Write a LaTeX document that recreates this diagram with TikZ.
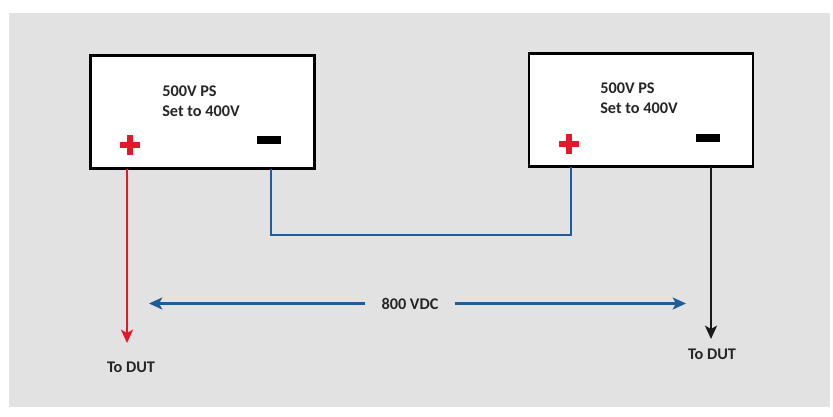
\documentclass[tikz,border=0pt]{standalone}
\usepackage{fontspec}
\setmainfont{Carlito}
\usetikzlibrary{arrows.meta,calc}
\definecolor{bggray}{HTML}{E1E2E1}
\definecolor{wblue}{HTML}{1F5C99}
\definecolor{wred}{HTML}{E3192B}
\begin{document}
\begin{tikzpicture}[x=0.75pt,y=-0.75pt,
  psbox/.style={draw=black,line width=2.2pt,fill=white,minimum width=224*0.75pt,minimum height=113*0.75pt,inner sep=0pt},
  lbl/.style={font=\bfseries\fontsize{12.2pt}{14pt}\selectfont,text=black!85,inner sep=0pt},
  plussign/.style={inner sep=0pt,minimum size=0pt},
  minusbar/.style={fill=black,inner sep=0pt,minimum width=24*0.75pt,minimum height=8*0.75pt},
  wire/.style={line width=1.8pt},
  tip/.style={-{Stealth[length=10pt,width=9pt,inset=2.5pt]}}
]
\useasboundingbox (0,0) rectangle (833,417);
\fill[white] (0,0) rectangle (833,417);
\fill[bggray] (9,13) rectangle (830,407);

% boxes
\node[psbox] (ps1) at (202.5,112) {};
\node[psbox] (ps2) at (641,110) {};

\node[lbl,anchor=west] (t1a) at (162,91) {500V PS};
\node[lbl,anchor=west] (t1b) at (162,111) {Set to 400V};
\node[lbl,anchor=west] (t2a) at (600,88) {500V PS};
\node[lbl,anchor=west] (t2b) at (600,108) {Set to 400V};

% plus signs
\node[plussign] (p1) at (130,145) {};
\fill[wred] ($(p1)+(-10,-3)$) rectangle ($(p1)+(10,3)$);
\fill[wred] ($(p1)+(-3,-10)$) rectangle ($(p1)+(3,10)$);
\node[plussign] (p2) at (569,144) {};
\fill[wred] ($(p2)+(-10,-3)$) rectangle ($(p2)+(10,3)$);
\fill[wred] ($(p2)+(-3,-10)$) rectangle ($(p2)+(3,10)$);

% minus bars
\node[minusbar] (m1) at (269,140) {};
\node[minusbar] (m2) at (708,138) {};

% connection coordinates
\coordinate (r1) at (127,169);
\coordinate (r2) at (127,343);
\coordinate (b1) at (271,169);
\coordinate (b2) at (271,235);
\coordinate (b3) at (571,235);
\coordinate (b4) at (571,167);
\coordinate (k1) at (711,167);
\coordinate (k2) at (711,339);

\draw[wire,wred,tip] (r1) -- (r2);
\draw[wire,wblue] (b1) -- (b2) -- (b3) -- (b4);
\draw[wire,black!90,tip] (k1) -- (k2);

\node[lbl] (dut1) at (131,367) {To DUT};
\node[lbl] (dut2) at (712,354) {To DUT};

\node[lbl,fill=bggray,inner xsep=12pt,inner ysep=3pt] (v) at (410,303.5) {800 VDC};
\coordinate (aL) at (149,303.5);
\coordinate (aR) at (686,303.5);
\draw[wire,wblue,tip] (v.west) -- (aL);
\draw[wire,wblue,tip] (v.east) -- (aR);
\end{tikzpicture}
\end{document}
